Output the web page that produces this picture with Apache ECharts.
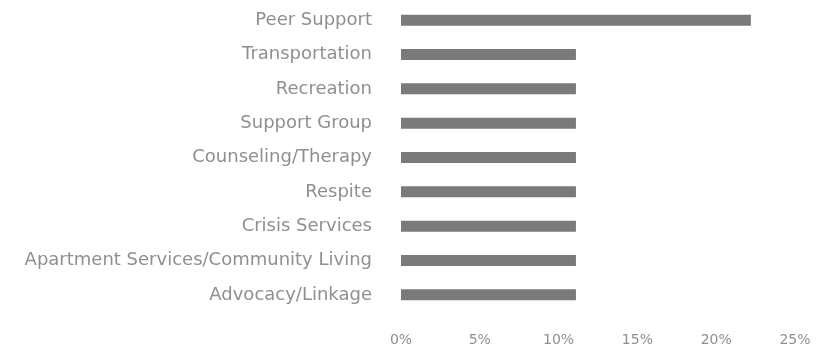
<!DOCTYPE html>
<html>
<head>
<meta charset="utf-8">
<script src="https://cdn.jsdelivr.net/npm/echarts@6/dist/echarts.min.js"></script>
<style>html,body{margin:0;padding:0;background:#fff}#chart{width:834px;height:350px}</style>
</head>
<body>
<div id="chart"></div>
<script>
const categories = ["Advocacy/Linkage","Apartment Services/Community Living","Crisis Services","Respite","Counseling/Therapy","Support Group","Recreation","Transportation","Peer Support"];
const values = [11.1, 11.1, 11.1, 11.1, 11.1, 11.1, 11.1, 11.1, 22.2];
const xTicks = [0, 5, 10, 15, 20, 25];

const chart = echarts.init(document.getElementById('chart'));
chart.setOption({
  animation: false,
  grid: {left: 401, right: 39, top: 3, bottom: 38, containLabel: false},
  xAxis: {
    type: 'value', min: xTicks[0], max: xTicks[xTicks.length-1], interval: 5,
    axisLine: {show: false}, axisTick: {show: false}, splitLine: {show: false},
    axisLabel: {formatter: v => v + '%', color: '#8f8f8f', fontSize: 14, fontFamily: 'DejaVu Sans', margin: 21}
  },
  yAxis: {
    type: 'category', data: categories,
    axisLine: {show: false}, axisTick: {show: false},
    axisLabel: {color: '#8f8f8f', fontSize: 18, fontFamily: 'DejaVu Sans', margin: 29}
  },
  series: [{
    type: 'bar', data: values, barWidth: 11,
    itemStyle: {color: '#7a7a7a'}
  }]
});
</script>
</body>
</html>
